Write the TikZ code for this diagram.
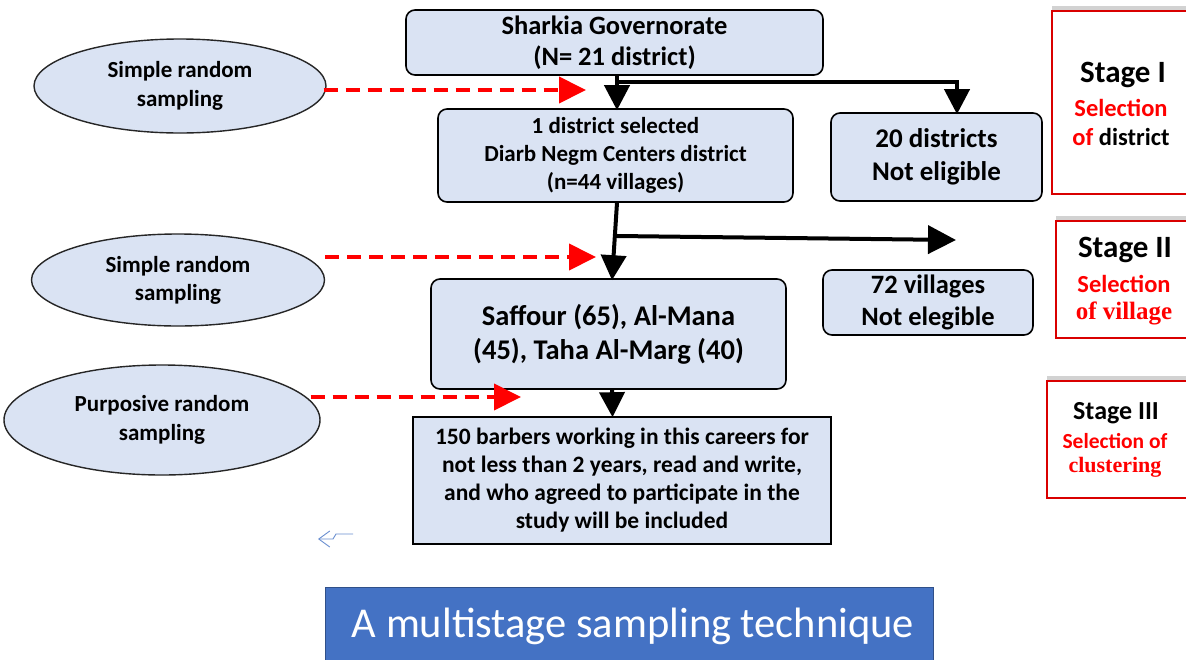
\documentclass[tikz,border=0pt]{standalone}
\usepackage{fontspec}
\setmainfont{Carlito}
\newfontfamily\serifb{Liberation Serif}
\usetikzlibrary{shapes.geometric,arrows.meta,shadows,calc}
\definecolor{boxfill}{RGB}{218,227,243}
\definecolor{titleblue}{RGB}{68,114,196}
\definecolor{myred}{RGB}{255,0,0}
\tikzset{
  bx/.style={draw=black, line width=1.6pt, fill=boxfill, rounded corners=9pt, align=center, inner sep=0pt},
  sqbx/.style={draw=black, line width=1.6pt, fill=boxfill, align=center, inner sep=0pt},
  ell/.style={ellipse, draw=black!85, line width=1.4pt, fill=boxfill, align=center, inner sep=0pt},
  blk/.style={line width=4pt, draw=black, -{Triangle[length=25pt,width=25pt]}},
  reddash/.style={line width=4pt, draw=myred, dash pattern=on 14pt off 8pt, -{Triangle[length=27pt,width=26pt]}},
  stagebox/.style={draw=myred!85!black, line width=1.6pt, fill=white, drop shadow={shadow xshift=0pt, shadow yshift=5pt, opacity=0.35, fill=black!50}},
  stlbl/.style={inner sep=0pt, anchor=center},
}
\begin{document}
\begin{tikzpicture}[x=1pt,y=-1pt]
\useasboundingbox (0,0) rectangle (1186,659);
\clip (0,0) rectangle (1186,659);
\fill[white] (0,0) rectangle (1186,659);

% main boxes
\node[bx, minimum width=417pt, minimum height=65pt, font=\bfseries\fontsize{26.5}{31}\selectfont] (sh) at (614.5,42.5) {Sharkia Governorate\\(N= 21 district)};
\node[bx, minimum width=355pt, minimum height=93pt, font=\bfseries\fontsize{23}{28}\selectfont] (d1) at (615.5,155.5) {1 district selected\\Diarb Negm Centers district\\(n=44 villages)};
\node[bx, minimum width=211pt, minimum height=88pt, font=\bfseries\fontsize{27}{33}\selectfont] (d20) at (936.5,157) {20 districts\\Not eligible};
\node[bx, minimum width=355pt, minimum height=110pt, font=\bfseries\fontsize{28.5}{34}\selectfont] (sf) at (608.5,334) {Saffour (65), Al-Mana\\(45), Taha Al-Marg (40)};
\node[bx, minimum width=210pt, minimum height=65pt, font=\bfseries\fontsize{26.5}{32}\selectfont] (v72) at (928,302.5) {72 villages\\Not elegible};
\node[sqbx, minimum width=418pt, minimum height=127pt, font=\bfseries\fontsize{23.5}{28}\selectfont] (bb) at (622,480.5) {150 barbers working in this careers for\\not less than 2 years, read and write,\\and who agreed to participate in the\\study will be included};

% ellipses
\node[ell, minimum width=292pt, minimum height=94pt, font=\bfseries\fontsize{23}{29}\selectfont] (e1) at (180,86) {Simple random\\sampling};
\node[ell, minimum width=293pt, minimum height=92pt, font=\bfseries\fontsize{23}{28}\selectfont] (e2) at (178,280) {Simple random\\sampling};
\node[ell, minimum width=316pt, minimum height=110pt, font=\bfseries\fontsize{23}{29}\selectfont] (e3) at (162,420) {Purposive random\\sampling};

% red dashed arrows
\coordinate (r1) at (586,90);
\coordinate (r2) at (596,257);
\coordinate (r3) at (521,397);
\draw[reddash] ([xshift=-3pt]r1 -| e1.east) -- (r1);
\draw[reddash] (r2 -| e2.east) -- (r2);
\draw[reddash] ([xshift=-10pt]r3 -| e3.east) -- (r3);

% black arrows
\coordinate (j1) at (617,82);
\coordinate (j2) at (617,236);
\draw[blk] ([xshift=2.5pt]sh.south) -- ([xshift=1.5pt,yshift=-2pt]d1.north);
\draw[line width=4pt, -{Triangle[length=25pt,width=25pt]}] (j1) -| ([xshift=20.5pt,yshift=-2pt]d20.north);
\draw[blk] ([xshift=1.5pt]d1.south) -- ([xshift=3.5pt,yshift=-2pt]sf.north);
\draw[line width=4pt, -{Triangle[length=28pt,width=28pt]}] (j2) -- (956,240);
\draw[blk] ([xshift=3.5pt]sf.south) -- ([xshift=-9.5pt,yshift=-1pt]bb.north);

% stage boxes
\node[stagebox, minimum width=145pt, minimum height=183pt, anchor=north west] (s1) at (1051,10) {};
\node[stagebox, minimum width=140pt, minimum height=117pt, anchor=north west] (s2) at (1055,220) {};
\node[stagebox, minimum width=150pt, minimum height=117pt, anchor=north west] (s3) at (1046,380) {};

\node[stlbl, font=\bfseries\fontsize{31}{36}\selectfont] (t1a) at (1123,75) {Stage I};
\node[stlbl, font=\bfseries\fontsize{24.5}{28}\selectfont, text=myred] (t1b) at (1121,108) {Selection};
\node[stlbl, font=\bfseries\fontsize{24.5}{28}\selectfont] (t1c) at (1121,137) {\color{myred}of \color{black}district};

\node[stlbl, font=\bfseries\fontsize{31}{36}\selectfont] (t2a) at (1125,250) {Stage II};
\node[stlbl, font=\bfseries\fontsize{24.5}{28}\selectfont, text=myred] (t2b) at (1124,284) {Selection};
\node[stlbl, font=\serifb\bfseries\fontsize{25}{28}\selectfont, text=myred] (t2c) at (1124,313) {of village};

\node[stlbl, font=\bfseries\fontsize{26}{30}\selectfont] (t3a) at (1116,413) {Stage III};
\node[stlbl, font=\bfseries\fontsize{21.5}{25}\selectfont, text=myred] (t3b) at (1115,441) {Selection of};
\node[stlbl, font=\serifb\bfseries\fontsize{22}{25}\selectfont, text=myred] (t3c) at (1115,467) {clustering};

% small blue arrow
\coordinate (b1) at (353,534);
\coordinate (b2) at (336,534);
\coordinate (b3) at (333,539);
\coordinate (b4) at (318,539);
\draw[titleblue!80, line width=0.9pt, -{Straight Barb[length=11pt,width=16pt]}] (b1) -- (b2) -- (b3) -- (b4);

% title
\node[fill=titleblue, draw=titleblue!70!black, line width=0.8pt, minimum width=608pt, minimum height=80pt, anchor=north west, inner sep=0pt] (tb) at (325,587) {};
\node[text=white, font=\fontsize{42.5}{50}\selectfont, anchor=center] (tt) at (633,626) {A multistage sampling technique};
\end{tikzpicture}
\end{document}
